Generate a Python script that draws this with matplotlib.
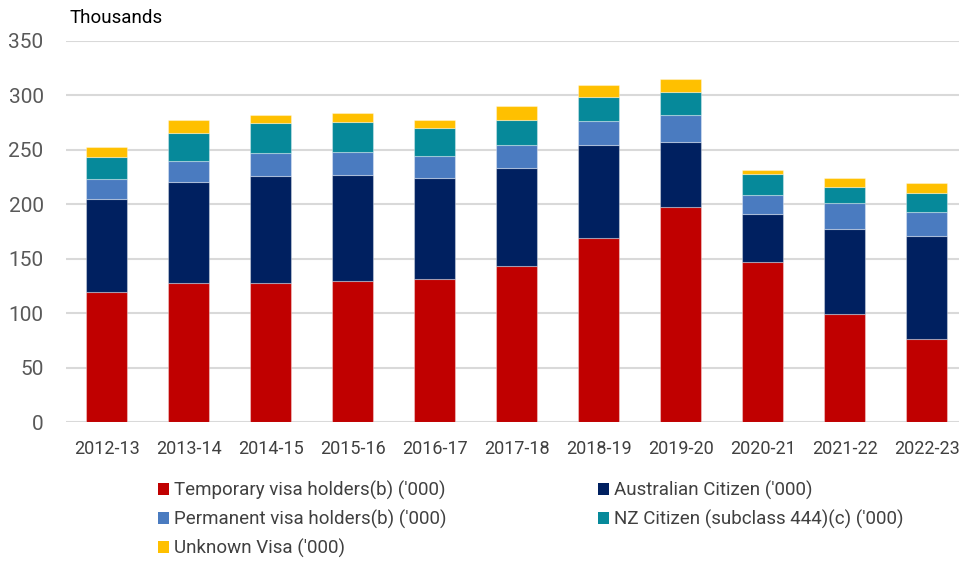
import matplotlib
matplotlib.use("Agg")
import matplotlib.pyplot as plt
from matplotlib.patches import Patch
import numpy as np

plt.rcParams['font.family'] = ['Roboto', 'DejaVu Sans']

years = ["2012-13", "2013-14", "2014-15", "2015-16", "2016-17", "2017-18",
         "2018-19", "2019-20", "2020-21", "2021-22", "2022-23"]
temporary = [119.3, 127.9, 128.2, 129.8, 131.6, 143.9, 169.0, 197.2, 146.9, 99.4, 76.7]
australian = [85.6, 92.7, 97.9, 97.2, 92.6, 89.5, 85.3, 60.5, 44.2, 77.9, 94.2]
permanent = [18.7, 19.6, 21.4, 21.5, 20.6, 20.9, 22.1, 24.8, 17.8, 23.6, 22.4]
nz = [20.3, 25.4, 27.3, 27.3, 25.4, 23.0, 22.4, 20.6, 19.0, 15.4, 17.1]
unknown = [8.6, 12.0, 7.1, 7.9, 7.1, 12.6, 10.7, 11.9, 3.7, 7.6, 9.2]

series = [
    ("Temporary visa holders(b) ('000)", temporary, "#C00000"),
    ("Australian Citizen ('000)", australian, "#002060"),
    ("Permanent visa holders(b) ('000)", permanent, "#4A7BC0"),
    ("NZ Citizen (subclass 444)(c) ('000)", nz, "#06899A"),
    ("Unknown Visa ('000)", unknown, "#FFC000"),
]

fig = plt.figure(figsize=(9.59, 5.61), dpi=100)
W, H = 959, 561
left_px, right_px, top_px, bot_px = 65.8, 967.8, 41.0, 422.3
ax = fig.add_axes([left_px / W, 1 - bot_px / H, (right_px - left_px) / W, (bot_px - top_px) / H])

x = np.arange(len(years))
bottom = np.zeros(len(years))
handles = {}
for name, vals, col in series:
    vals = np.array(vals)
    ax.bar(x, vals, width=0.5, bottom=bottom, color=col,
           edgecolor=(1, 1, 1, 0.35), linewidth=0.8, zorder=3)
    handles[name] = Patch(facecolor=col, edgecolor='none')
    bottom += vals

ax.set_xlim(-0.5, len(years) - 0.5)
ax.set_ylim(0, 350)
ax.set_yticks(np.arange(0, 351, 50))
ax.set_xticks(x)
ax.set_xticklabels(years)
ax.grid(axis='y', color='#D9D9D9', linewidth=1.5, zorder=0)
ax.set_axisbelow(True)
for s in ax.spines.values():
    s.set_visible(False)
ax.tick_params(axis='y', length=0, pad=16, labelsize=15, labelcolor='#595959')
ax.tick_params(axis='x', length=0, pad=13, labelsize=13, labelcolor='#404040')

fig.text(70 / W, 1 - 18 / H, "Thousands", fontsize=13.5, color='#000000', va='center', ha='left')

order = ["Temporary visa holders(b) ('000)", "Permanent visa holders(b) ('000)", "Unknown Visa ('000)",
         "Australian Citizen ('000)", "NZ Citizen (subclass 444)(c) ('000)"]
fig.legend([handles[k] for k in order], order, ncol=2, loc='upper left',
           bbox_to_anchor=(158 / W, 1 - 480.5 / H), frameon=False, fontsize=13.5,
           labelcolor='#404040', handlelength=0.59, handleheight=0.59, handletextpad=0.27,
           columnspacing=8.05, labelspacing=0.52, borderaxespad=0, borderpad=0)

fig.savefig("out.png", dpi=100)
